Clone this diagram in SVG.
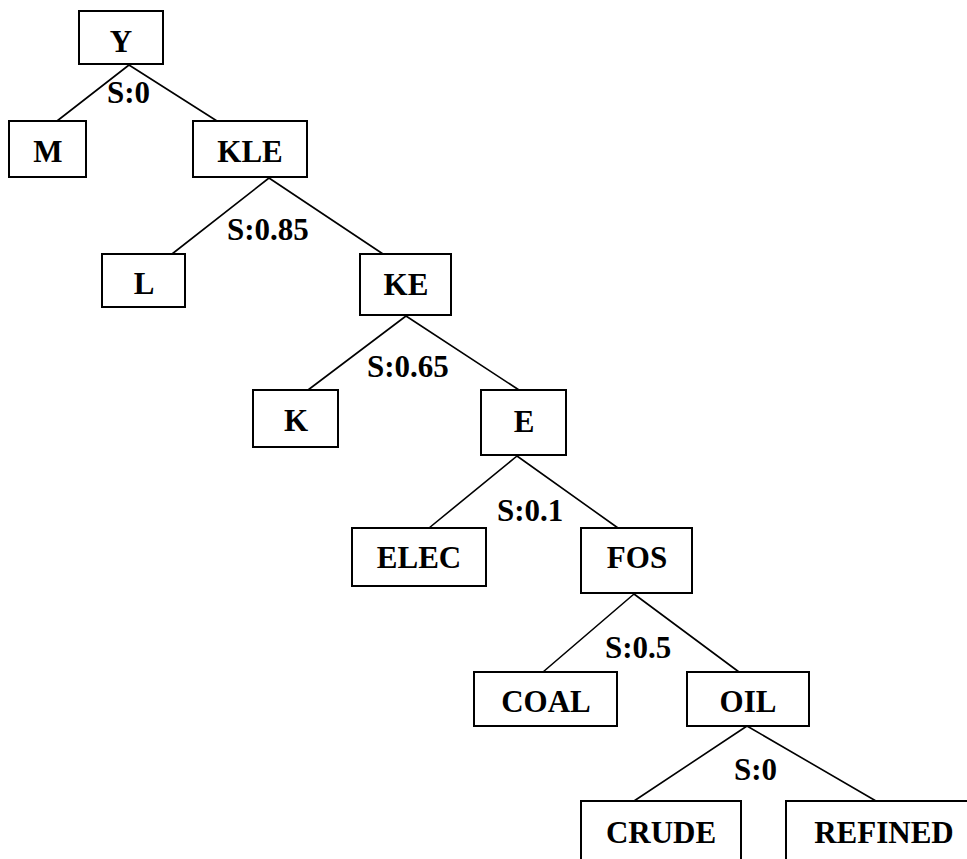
<svg xmlns="http://www.w3.org/2000/svg" width="967" height="859" viewBox="0 0 967 859">
<style>
.box{fill:#fff;stroke:#000;stroke-width:2}
.lbl{font-family:"Liberation Serif","Times New Roman",serif;font-weight:bold;font-size:31px;fill:#000}
.nt{text-anchor:middle}
.edge{stroke:#000;stroke-width:1.6;fill:none}
</style>
<rect width="967" height="859" fill="#fff"/>
<g id="connectors">
<path class="edge" d="M129,65 L57,121 M129,65 L217,121"/>
<path class="edge" d="M269,178 L172,254 M269,178 L383,254"/>
<path class="edge" d="M406,316 L308,390 M406,316 L519,390"/>
<path class="edge" d="M517,456 L429,528 M517,456 L618,528"/>
<path class="edge" d="M634,594 L543,672 M634,594 L739,672"/>
<path class="edge" d="M747,726 L634,801 M747,726 L876,801"/>
<text class="lbl" x="107" y="103">S:0</text>
<text class="lbl" x="227" y="240">S:0.85</text>
<text class="lbl" x="367" y="377">S:0.65</text>
<text class="lbl" x="497" y="521">S:0.1</text>
<text class="lbl" x="605" y="658">S:0.5</text>
<text class="lbl" x="734" y="780">S:0</text>
</g>
<g id="Y"><rect class="box" x="79" y="11" width="84" height="53"/><text class="lbl nt" x="121" y="52">Y</text></g>
<g id="M"><rect class="box" x="9" y="121" width="77" height="56"/><text class="lbl nt" x="48" y="162">M</text></g>
<g id="KLE"><rect class="box" x="193" y="121" width="114" height="56"/><text class="lbl nt" x="250" y="162">KLE</text></g>
<g id="L"><rect class="box" x="102" y="254" width="83" height="53"/><text class="lbl nt" x="144" y="294">L</text></g>
<g id="KE"><rect class="box" x="360" y="254" width="91" height="61"/><text class="lbl nt" x="406" y="295">KE</text></g>
<g id="K"><rect class="box" x="253" y="390" width="85" height="57"/><text class="lbl nt" x="296" y="431">K</text></g>
<g id="E"><rect class="box" x="481" y="390" width="85" height="65"/><text class="lbl nt" x="524" y="432">E</text></g>
<g id="ELEC"><rect class="box" x="352" y="528" width="134" height="58"/><text class="lbl nt" x="419" y="568">ELEC</text></g>
<g id="FOS"><rect class="box" x="581" y="528" width="111" height="65"/><text class="lbl nt" x="637" y="568">FOS</text></g>
<g id="COAL"><rect class="box" x="474" y="672" width="143" height="54"/><text class="lbl nt" x="546" y="712">COAL</text></g>
<g id="OIL"><rect class="box" x="687" y="672" width="122" height="54"/><text class="lbl nt" x="748" y="712">OIL</text></g>
<g id="CRUDE"><rect class="box" x="581" y="801" width="160" height="70"/><text class="lbl nt" x="661" y="843">CRUDE</text></g>
<g id="REFINED"><rect class="box" x="786" y="801" width="196" height="70"/><text class="lbl nt" x="884" y="843">REFINED</text></g>
</svg>
